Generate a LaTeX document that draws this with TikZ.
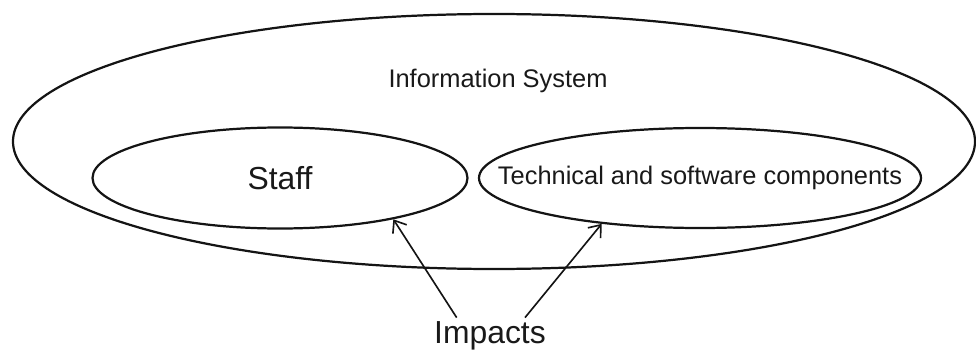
\documentclass[tikz,border=0pt]{standalone}
\usepackage{fontspec}
\setmainfont{Liberation Sans}
\usepackage{tikz}
\usetikzlibrary{positioning,shapes.geometric,arrows.meta}
\definecolor{colorline}{RGB}{20,20,20}
\definecolor{colortext}{RGB}{25,25,25}

\begin{document}
\begin{tikzpicture}[
    auto,
    area/.style={ellipse,draw=colorline,line width=1.9pt,inner sep=0pt},
    smalltext/.style={font={\fontsize{21.7}{26}\selectfont},text=colortext},
    bigtext/.style={font={\fontsize{27.2}{32}\selectfont},text=colortext},
    impact/.style={-{Straight Barb[length=9pt,width=14pt,line width=1.4pt]},line width=1.4pt,draw=colorline},
]
    \useasboundingbox (0,0) rectangle (29.28,10.53);

    % Areas
    \node[area,minimum width=28.86cm,minimum height=7.65cm] (system) at (14.82,6.285) {};
    \node[smalltext,anchor=base] (systemtitle) at (14.94,7.89) {Information System};

    \node[area,minimum width=11.25cm,minimum height=3.03cm] (staff) at (8.4,5.19) {};
    \node[bigtext] (stafftitle) at (staff.center) {Staff};

    \node[area,minimum width=13.26cm,minimum height=3.0cm] (technical) at (21.0,5.19) {};
    \node[smalltext] (technicaltitle) at (technical.center) {Technical and software components};

    \node[bigtext,anchor=base] (impacts) at (14.7,0.22) {Impacts};

    % Impact arrows
    \draw[impact] ([xshift=-1.0cm]impacts.north) -- (staff.-20.4);
    \draw[impact] ([xshift=1.05cm]impacts.north) -- (technical.205.8);

\end{tikzpicture}
\end{document}
